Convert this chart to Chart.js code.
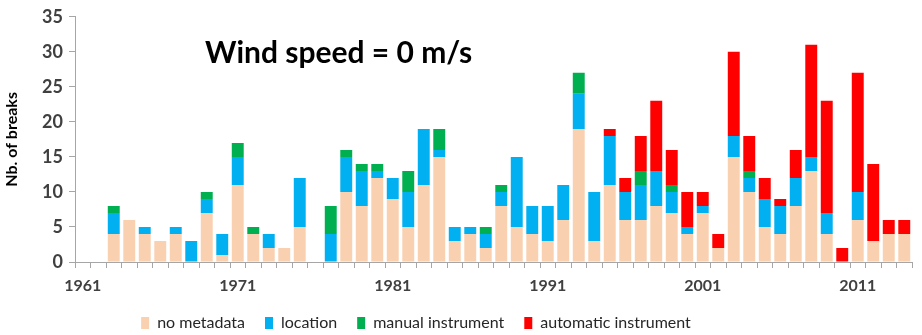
<!DOCTYPE html>
<html>
<head>
<meta charset="utf-8">
<script src="https://cdn.jsdelivr.net/npm/chart.js@4.4.1/dist/chart.umd.min.js"></script>
<style>
  body { margin: 0; background: #fff; }
  #wrap { width: 922px; height: 335px; position: relative; }
</style>
</head>
<body>
<div id="wrap"><canvas id="chartjs-0"></canvas></div>
<script>
/* breaks per year, one array per cause */
var years = [1961, 1962, 1963, 1964, 1965, 1966, 1967, 1968, 1969, 1970,
  1971, 1972, 1973, 1974, 1975, 1976, 1977, 1978, 1979, 1980,
  1981, 1982, 1983, 1984, 1985, 1986, 1987, 1988, 1989, 1990,
  1991, 1992, 1993, 1994, 1995, 1996, 1997, 1998, 1999, 2000,
  2001, 2002, 2003, 2004, 2005, 2006, 2007, 2008, 2009, 2010,
  2011, 2012, 2013, 2014];

var noMetadata = [0, 0, 4, 6, 4, 3, 4, 0, 7, 1,
  11, 4, 2, 2, 5, 0, 0, 10, 8, 12,
  9, 5, 11, 15, 3, 4, 2, 8, 5, 4,
  3, 6, 19, 3, 11, 6, 6, 8, 7, 4,
  7, 2, 15, 10, 5, 4, 8, 13, 4, 0,
  6, 3, 4, 4];

/* don't call this "location", it would clobber window.location */
var locationBreaks = [0, 0, 3, 0, 1, 0, 1, 3, 2, 3,
  4, 0, 2, 0, 7, 0, 4, 5, 5, 1,
  3, 5, 8, 1, 2, 1, 2, 2, 10, 4,
  5, 5, 5, 7, 7, 4, 5, 5, 3, 1,
  1, 0, 3, 2, 4, 4, 4, 2, 3, 0,
  4, 0, 0, 0];

var manualInstrument = [0, 0, 1, 0, 0, 0, 0, 0, 1, 0,
  2, 1, 0, 0, 0, 0, 4, 1, 1, 1,
  0, 3, 0, 3, 0, 0, 1, 1, 0, 0,
  0, 0, 3, 0, 0, 0, 2, 0, 1, 0,
  0, 0, 0, 1, 0, 0, 0, 0, 0, 0,
  0, 0, 0, 0];

var automaticInstrument = [0, 0, 0, 0, 0, 0, 0, 0, 0, 0,
  0, 0, 0, 0, 0, 0, 0, 0, 0, 0,
  0, 0, 0, 0, 0, 0, 0, 0, 0, 0,
  0, 0, 0, 0, 1, 2, 5, 10, 5, 5,
  2, 2, 12, 5, 3, 1, 4, 16, 16, 2,
  17, 11, 2, 2];

var chartTitle = "Wind speed = 0 m/s";

/* big label inside the plot, legend nudged left, x labels not clipped */
var titlePlugin = {
  id: "insideTitle",
  afterLayout: function (chart) {
    chart.legend.left -= 40;
    chart.legend.right -= 40;
    chart.scales.x.bottom += 20;
    chart.scales.x.height += 20;
  },
  afterDraw: function (chart) {
    var c = chart.ctx;
    c.save();
    c.font = "bold 30px Lato";
    c.fillStyle = "#000";
    c.textBaseline = "middle";
    c.fillText(chartTitle, 205, 53);
    c.restore();
  }
};

var txt = "#404040";

var ctx = document.getElementById("chartjs-0");
var myChart = new Chart(ctx, {
  type: "bar",
  data: {
    labels: years,
    datasets: [
      { label: "no metadata", data: noMetadata, backgroundColor: "#F9D1B1" },
      { label: "location", data: locationBreaks, backgroundColor: "#00B0F0" },
      { label: "manual instrument", data: manualInstrument, backgroundColor: "#00B050" },
      { label: "automatic instrument", data: automaticInstrument, backgroundColor: "#FF0000" }
    ]
  },
  plugins: [titlePlugin],
  options: {
    responsive: true,
    maintainAspectRatio: false,
    animation: false,
    layout: { padding: { top: 8, right: 10, left: 0, bottom: -6 } },
    datasets: { bar: { categoryPercentage: 1, barPercentage: 0.77 } },
    plugins: {
      tooltip: { enabled: false },
      legend: {
        position: "bottom",
        labels: {
          boxWidth: 8,
          boxHeight: 12,
          padding: 20,
          color: "#262626",
          font: { family: "Lato", size: 16 }
        }
      }
    },
    scales: {
      x: {
        stacked: true,
        grid: {
          offset: true,
          drawOnChartArea: false,
          drawTicks: true,
          tickLength: 6,
          color: "#a6a6a6"
        },
        border: { color: "#a6a6a6", width: 1 },
        ticks: {
          autoSkip: false,
          maxRotation: 0,
          padding: 8,
          color: txt,
          font: { family: "Lato", size: 16, weight: "bold" },
          callback: function (v, i) { return i % 10 === 0 ? years[i] : ""; }
        },
        afterFit: function (s) { s.height = 33; }
      },
      y: {
        stacked: true,
        min: 0,
        max: 35,
        grid: {
          drawOnChartArea: false,
          drawTicks: true,
          tickLength: 6,
          color: "#a6a6a6"
        },
        border: { color: "#a6a6a6", width: 1 },
        ticks: {
          stepSize: 5,
          padding: 6,
          color: txt,
          font: { family: "Lato", size: 18, weight: "bold" }
        },
        title: {
          display: true,
          text: "Nb. of breaks",
          color: "#000",
          padding: { top: 2, bottom: 0 },
          font: { family: "Lato", size: 16, weight: "bold" }
        },
        afterFit: function (s) { s.width = 75; }
      }
    }
  }
});
</script>
</body>
</html>
